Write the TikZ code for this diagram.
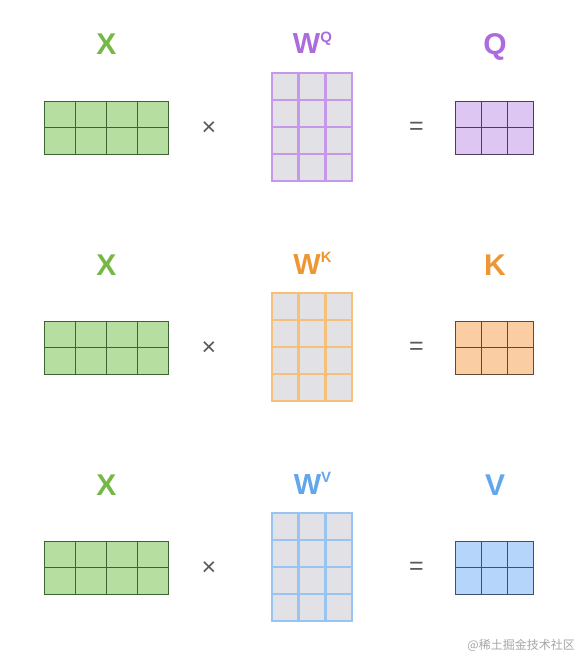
\documentclass[tikz,border=0pt]{standalone}
\usepackage{fontspec}
\setmainfont{Liberation Sans}
\newfontfamily\cjkfont{Noto Sans CJK SC}
\definecolor{xlab}{RGB}{118,184,70}
\definecolor{xfill}{RGB}{181,222,160}
\definecolor{xline}{RGB}{62,100,52}
\definecolor{qlab}{RGB}{172,108,222}
\definecolor{qfill}{RGB}{222,198,243}
\definecolor{qline}{RGB}{78,60,88}
\definecolor{wq}{RGB}{198,152,234}
\definecolor{klab}{RGB}{238,150,52}
\definecolor{kfill}{RGB}{250,206,162}
\definecolor{kline}{RGB}{100,72,52}
\definecolor{wk}{RGB}{246,192,122}
\definecolor{vlab}{RGB}{98,166,236}
\definecolor{vfill}{RGB}{182,213,250}
\definecolor{vline}{RGB}{62,80,110}
\definecolor{wv}{RGB}{152,196,242}
\definecolor{wcell}{RGB}{226,226,230}
\definecolor{opgray}{RGB}{90,90,90}
\definecolor{wmgray}{RGB}{165,165,165}
\newcommand{\mygrid}[9]{%
  % #1 name, #2 x0, #3 y0, #4 x1, #5 y1, #6 cols, #7 rows, #8 fill, #9 line style
  \pgfmathsetmacro\gxa{#2}\pgfmathsetmacro\gya{#3}%
  \pgfmathsetmacro\gxb{#4}\pgfmathsetmacro\gyb{#5}%
  \pgfmathsetmacro\gw{\gxb-\gxa}\pgfmathsetmacro\gh{\gyb-\gya}%
  \pgfmathsetmacro\gcx{(\gxa+\gxb)/2}\pgfmathsetmacro\gcy{(\gya+\gyb)/2}%
  \node[rectangle, inner sep=0pt, outer sep=0pt, fill=#8, minimum width=\gw pt, minimum height=\gh pt] (#1) at (\gcx,\gcy) {};
  \foreach \i in {1,...,#6} {\pgfmathsetmacro\xx{\gxa+\gw*\i/#6}\ifnum\i<#6 \draw[#9] (\xx,\gya) -- (\xx,\gyb);\fi}
  \foreach \j in {1,...,#7} {\pgfmathsetmacro\yy{\gya+\gh*\j/#7}\ifnum\j<#7 \draw[#9] (\gxa,\yy) -- (\gxb,\yy);\fi}
  \draw[#9] (#1.north west) rectangle (#1.south east);
}
\begin{document}
\begin{tikzpicture}[x=1pt,y=-1pt]
\useasboundingbox (0,0) rectangle (581,658);
\tikzset{
  lbl/.style={font=\bfseries\fontsize{30}{30}\selectfont, anchor=base, inner sep=0pt},
  wlbl/.style={font=\bfseries\fontsize{29}{29}\selectfont, anchor=base, inner sep=0pt},
  opsym/.style={text=opgray, font=\fontsize{25}{25}\selectfont, inner sep=0pt},
  thin grid/.style={draw=#1, line width=0.8pt},
  thick grid/.style={draw=#1, line width=2.6pt},
}
\foreach \off/\nm/\lab/\fil/\lin/\wl in {0/Q/qlab/qfill/qline/wq, 220/K/klab/kfill/kline/wk, 440/V/vlab/vfill/vline/wv}{
  \node[lbl, text=xlab] (X\nm) at (106.5,{55+\off}) {X};
  \node[wlbl, text=\lab] (W\nm) at (312.5,{54+\off}) {W\raisebox{11.5pt}{\fontsize{15}{15}\selectfont\bfseries \nm}};
  \node[lbl, text=\lab] (R\nm) at (495,{55+\off}) {\nm};
  \mygrid{mx\nm}{44}{101+\off}{168}{154+\off}{4}{2}{xfill}{thin grid=xline}
  \mygrid{mw\nm}{272}{73+\off}{352}{181+\off}{3}{4}{wcell}{thick grid=\wl}
  \mygrid{mr\nm}{455}{101+\off}{533}{154+\off}{3}{2}{\fil}{thin grid=\lin}
  \node[opsym] (times\nm) at (209,{129+\off}) {×};
  \node[opsym] (eq\nm) at (416.5,{128.5+\off}) {=};
}
\node[text=wmgray, font=\cjkfont\fontsize{12}{12}\selectfont, anchor=east, inner sep=0pt] (wm) at (575,645) {@稀土掘金技术社区};
\end{tikzpicture}
\end{document}
